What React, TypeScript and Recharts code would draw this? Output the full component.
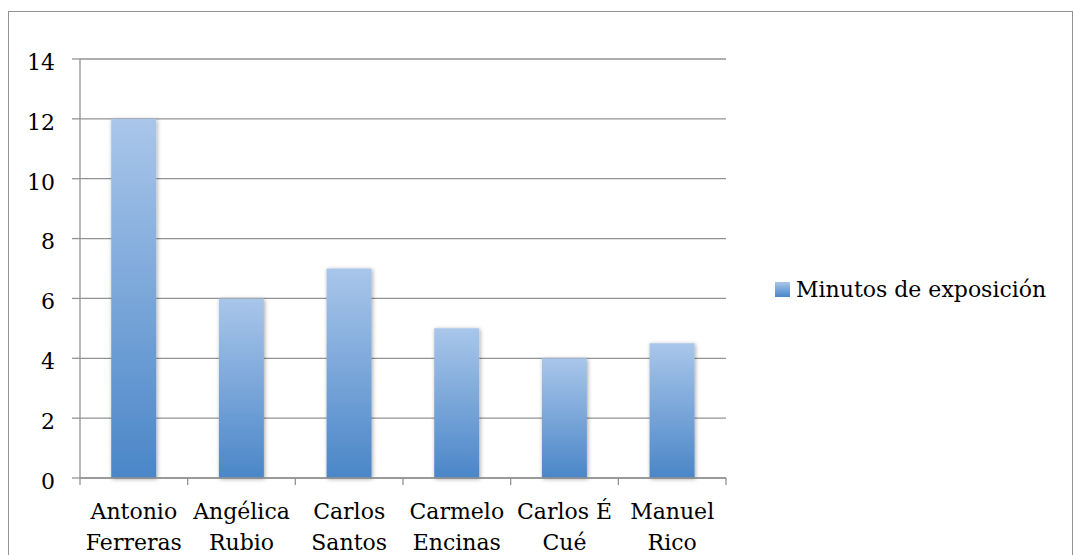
import { BarChart, Bar, XAxis, YAxis, CartesianGrid, Legend, Rectangle } from "recharts";

const categories = [
  "Antonio Ferreras",
  "Angélica Rubio",
  "Carlos Santos",
  "Carmelo Encinas",
  "Carlos É Cué",
  "Manuel Rico",
];
const minutos = [12, 6, 7, 5, 4, 4.5];
const yTicks = [0, 2, 4, 6, 8, 10, 12, 14];
const seriesName = "Minutos de exposición";

const data = categories.map((name, i) => ({ name, minutos: minutos[i] }));

const FONT = "'DejaVu Serif', serif";
const GRID = "#939393";
const FONT_SIZE = 22;

// name split at its last space onto two lines, plus tick marks on the band edges
function NameTick({ x, y, payload, index }: any) {
  const label: string = payload.value;
  const half: number = payload.offset || 0;
  const cut = label.lastIndexOf(" ");
  const lines = cut > 0 ? [label.slice(0, cut), label.slice(cut + 1)] : [label];
  const isLast = index === categories.length - 1;
  return (
    <g>
      <line x1={x - half} x2={x - half} y1={y} y2={y + 7} stroke={GRID} strokeWidth={1.3} />
      {isLast && (
        <line x1={x + half} x2={x + half} y1={y} y2={y + 7} stroke={GRID} strokeWidth={1.3} />
      )}
      <text x={x} y={y} textAnchor="middle" fill="#000" fontFamily={FONT} fontSize={FONT_SIZE}>
        {lines.map((l, i) => (
          <tspan key={i} x={x} dy={i === 0 ? 41 : 31}>
            {l}
          </tspan>
        ))}
      </text>
    </g>
  );
}

function ShadowBar(props: any) {
  return <Rectangle {...props} fill="url(#barFill)" filter="url(#barShadow)" />;
}

function LegendBox() {
  return (
    <div
      style={{
        display: "flex",
        alignItems: "center",
        fontFamily: FONT,
        fontSize: FONT_SIZE,
        color: "#000",
        whiteSpace: "nowrap",
      }}
    >
      <span
        style={{
          width: 15,
          height: 15,
          marginRight: 6,
          background: "linear-gradient(#a9c6ea, #4a86c8)",
          display: "inline-block",
        }}
      />
      {seriesName}
    </div>
  );
}

export default function App() {
  return (
    <div
      style={{
        position: "fixed",
        left: 0,
        top: 0,
        width: 1074,
        height: 555,
        overflow: "hidden",
        background: "#fff",
      }}
    >
      <div
        style={{
          position: "absolute",
          left: 8,
          top: 11,
          width: 1065,
          height: 600,
          border: `1px solid ${GRID}`,
          boxSizing: "border-box",
        }}
      />
      <div style={{ position: "absolute", left: 0, top: 0 }}>
        <BarChart
          width={1074}
          height={555}
          data={data}
          margin={{ top: 59, right: 348, bottom: 17, left: 20 }}
          barCategoryGap="29%"
        >
          <defs>
            <linearGradient id="barFill" x1="0" y1="0" x2="0" y2="1">
              <stop offset="0%" stopColor="#a9c6ea" />
              <stop offset="100%" stopColor="#4a86c8" />
            </linearGradient>
            <filter id="barShadow" x="-30%" y="-10%" width="160%" height="120%">
              <feDropShadow dx="1" dy="1" stdDeviation="2" floodColor="#000" floodOpacity="0.35" />
            </filter>
          </defs>
          <CartesianGrid vertical={false} stroke={GRID} strokeWidth={1.3} />
          <XAxis
            dataKey="name"
            axisLine={{ stroke: GRID, strokeWidth: 1.3 }}
            tickLine={false}
            tickSize={0}
            tickMargin={0}
            tick={<NameTick />}
            interval={0}
            height={60}
          />
          <YAxis
            domain={[0, 14]}
            ticks={yTicks}
            axisLine={{ stroke: GRID, strokeWidth: 1.3 }}
            tickLine={{ stroke: GRID, strokeWidth: 1.3 }}
            tickSize={8}
            tickMargin={17}
            width={60}
            tick={{ fill: "#000", fontFamily: FONT, fontSize: FONT_SIZE, dy: 3 }}
          />
          <Legend
            layout="horizontal"
            align="center"
            verticalAlign="middle"
            wrapperStyle={{ left: 775, top: 277, width: 290 }}
            content={<LegendBox />}
          />
          <Bar dataKey="minutos" name={seriesName} shape={<ShadowBar />} isAnimationActive={false} />
        </BarChart>
      </div>
    </div>
  );
}
